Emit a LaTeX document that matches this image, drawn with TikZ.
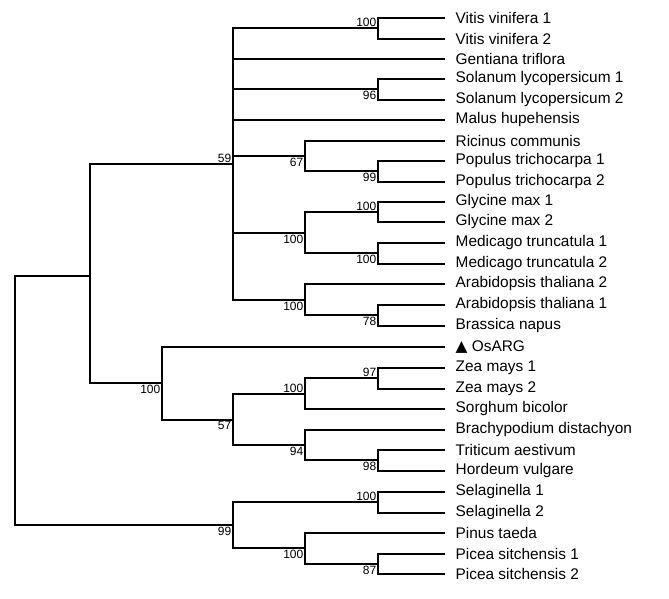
\documentclass[tikz,border=0pt]{standalone}
\usepackage{fontspec}
\setmainfont{Liberation Sans}
\newfontfamily\dejavu{DejaVu Sans}
\begin{document}
\begin{tikzpicture}[x=1pt,y=-1pt,line width=1.4pt,
 leaf/.style={anchor=west,font=\fontsize{15.4}{15.4}\selectfont,inner sep=0pt},
 bs/.style={font=\fontsize{12}{12}\selectfont,inner sep=1pt},
 ab/.style={bs,anchor=south east},
 be/.style={bs,anchor=north east}]
\useasboundingbox (0,0) rectangle (669,599);
\foreach \n/\y/\t in {v1/18/Vitis vinifera 1,v2/39/Vitis vinifera 2,ge/59/Gentiana triflora,s1/79/Solanum lycopersicum 1,s2/100/Solanum lycopersicum 2,ma/120/Malus hupehensis,ri/141/Ricinus communis,p1/161/Populus trichocarpa 1,p2/182/Populus trichocarpa 2,g1/202/Glycine max 1,g2/222/Glycine max 2,m1/243/Medicago truncatula 1,m2/264/Medicago truncatula 2,a2/284/Arabidopsis thaliana 2,a1/305/Arabidopsis thaliana 1,br/326/Brassica napus,z1/368/Zea mays 1,z2/389/Zea mays 2,so/409/Sorghum bicolor,bd/430/Brachypodium distachyon,tr/450/Triticum aestivum,ho/471/Hordeum vulgare,l1/492/Selaginella 1,l2/513/Selaginella 2,pt/533/Pinus taeda,c1/554/Picea sitchensis 1,c2/574/Picea sitchensis 2}
 {\node[leaf] (\n) at (455,\y) {\t};}
\node[leaf] (os) at (455,347) {{\dejavu ▲} OsARG};
\coordinate (nV) at (378,28); \coordinate (nS) at (378,89);
\coordinate (nP) at (378,171); \coordinate (nRP) at (305,156);
\coordinate (nG) at (378,212); \coordinate (nM) at (378,253);
\coordinate (nGM) at (305,233);
\coordinate (nAB) at (378,315); \coordinate (nA) at (305,300);
\coordinate (nD) at (233,164);
\coordinate (nZ) at (378,378); \coordinate (nZS) at (305,394);
\coordinate (nTH) at (378,460); \coordinate (nBT) at (305,445);
\coordinate (nGr) at (233,420); \coordinate (nMo) at (162,383);
\coordinate (nAng) at (90,276);
\coordinate (nL) at (378,502); \coordinate (nPC) at (378,564);
\coordinate (nPP) at (305,548); \coordinate (nGy) at (233,525);
\newcommand{\clade}[2]{\foreach \c in {#2} {\draw (#1) |- ([xshift=-10pt]\c.west);}}
\newcommand{\cladei}[2]{\foreach \c in {#2} {\draw (#1) |- (\c);}}
\clade{nV}{v1,v2}\clade{nS}{s1,s2}\clade{nP}{p1,p2}\clade{nG}{g1,g2}\clade{nM}{m1,m2}
\clade{nAB}{a1,br}\clade{nZ}{z1,z2}\clade{nTH}{tr,ho}\clade{nL}{l1,l2}\clade{nPC}{c1,c2}
\clade{nRP}{ri}\cladei{nRP}{nP}
\cladei{nGM}{nG,nM}
\clade{nA}{a2}\cladei{nA}{nAB}
\clade{nD}{ge,ma}\cladei{nD}{nV,nS,nRP,nGM,nA}
\clade{nZS}{so}\cladei{nZS}{nZ}
\clade{nBT}{bd}\cladei{nBT}{nTH}
\cladei{nGr}{nZS,nBT}
\clade{nMo}{os}\cladei{nMo}{nGr}
\cladei{nAng}{nD,nMo}
\clade{nPP}{pt}\cladei{nPP}{nPC}
\cladei{nGy}{nL,nPP}
\draw (nAng) -- (15,276) -- (15,525) -- (nGy);
\node[ab] at (nV) {100}; \node[be] at (nS) {96};
\node[ab] at (nD) {59}; \node[be] at (nRP) {67}; \node[be] at (nP) {99};
\node[ab] at (nG) {100}; \node[be] at (nM) {100}; \node[be] at (nGM) {100};
\node[be] at (nA) {100}; \node[be] at (nAB) {78};
\node[be] at (nMo) {100};
\node[ab] at (nZ) {97}; \node[ab] at (nZS) {100};
\node[be] at (nGr) {57}; \node[be] at (nBT) {94}; \node[be] at (nTH) {98};
\node[ab] at (nL) {100}; \node[be] at (nGy) {99}; \node[be] at (nPP) {100}; \node[be] at (nPC) {87};
\end{tikzpicture}
\end{document}
